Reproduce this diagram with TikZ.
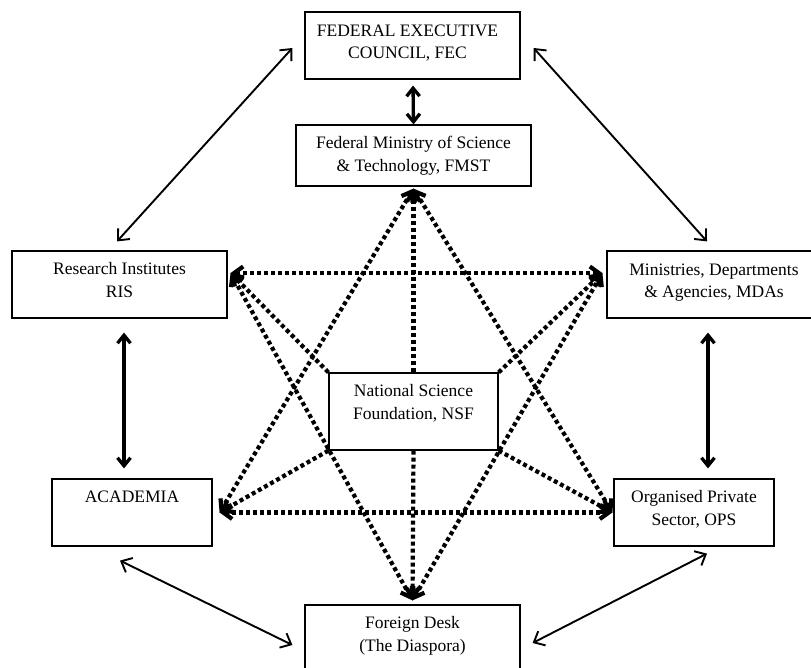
\documentclass[tikz,border=0pt]{standalone}
\usepackage{fontspec}
\setmainfont{Liberation Serif}
\usetikzlibrary{arrows.meta,calc}
\begin{document}
\begin{tikzpicture}[x=1pt,y=-1pt,
  box/.style={draw, line width=1.2pt, inner sep=0pt},
  txt/.style={font=\fontsize{17.5}{22.5}\selectfont, align=center, inner sep=0pt, anchor=north},
  thinarrow/.style={line width=1.9pt, {Straight Barb[length=9pt,width=16pt]}-{Straight Barb[length=9pt,width=16pt]}},
  thickarrow/.style={line width=3.3pt, {Straight Barb[length=8pt,width=13pt]}-{Straight Barb[length=8pt,width=13pt]}},
  dotline/.style={line width=4.2pt, dash pattern=on 4pt off 3pt},
  dotboth/.style={dotline, {Straight Barb[length=9pt,width=13pt]}-{Straight Barb[length=9pt,width=13pt]}},
  dotto/.style={dotline, -{Straight Barb[length=9pt,width=13pt]}}
]
\useasboundingbox (0,0) rectangle (811,668);

% boxes
\node[box, minimum width=215pt, minimum height=67pt] (fec) at (412.5,45.5) {};
\node[box, minimum width=235pt, minimum height=61pt] (fmst) at (413.5,155.5) {};
\node[box, minimum width=215pt, minimum height=67pt] (ris) at (119.5,284.5) {};
\node[box, minimum width=214pt, minimum height=67pt] (mda) at (714,284.5) {};
\node[box, minimum width=169pt, minimum height=77pt] (nsf) at (413.5,411.5) {};
\node[box, minimum width=160pt, minimum height=67pt] (aca) at (132,512.5) {};
\node[box, minimum width=160pt, minimum height=67pt] (ops) at (694,512.5) {};
\node[box, minimum width=215pt, minimum height=70pt] (for) at (412.5,640) {};

% texts
\node[txt] (tfec) at ($(fec.north)+(-5,13)$) {FEDERAL EXECUTIVE\\COUNCIL, FEC};
\node[txt] (tfmst) at ($(fmst.north)+(0,12)$) {Federal Ministry of Science\\\& Technology, FMST};
\node[txt] (tris) at ($(ris.north)+(0,12)$) {Research Institutes\\RIS};
\node[txt] (tmda) at ($(mda.north)+(0,13)$) {Ministries, Departments\\\& Agencies, MDAs};
\node[txt] (tnsf) at ($(nsf.north)+(0,12)$) {National Science\\Foundation, NSF};
\node[txt] (taca) at ($(aca.north)+(0,12)$) {ACADEMIA};
\node[txt] (tops) at ($(ops.north)+(0,12)$) {Organised Private\\Sector, OPS};
\node[txt] (tfor) at ($(for.north)+(0,12)$) {Foreign Desk\\(The Diaspora)};

% convergence points of dotted arrows
\coordinate (pR) at ($(ris.east)+(3,-11.5)$);
\coordinate (pM) at ($(mda.west)+(-4,-11.5)$);
\coordinate (pA) at ($(aca.east)+(7,0)$);
\coordinate (pO) at ($(ops.west)+(-1,0)$);
\coordinate (pT) at ($(fmst.south)+(0,2)$);
\coordinate (pB) at ($(for.north)+(0,-4)$);

% dotted star
\draw[dotboth] (pR) -- (pM);
\draw[dotboth] (pA) -- (pO);
\draw[dotboth] (pT) -- (pA);
\draw[dotboth] (pT) -- (pO);
\draw[dotboth] (pB) -- (pR);
\draw[dotboth] (pB) -- (pM);
\draw[dotto] (nsf.north) -- (pT);
\draw[dotto] (nsf.south) -- (pB);
\draw[dotto] (nsf.north west) -- (pR);
\draw[dotto] (nsf.north east) -- (pM);
\draw[dotto] (nsf.south west) -- (pA);
\draw[dotto] (nsf.south east) -- (pO);

% solid arrows
\draw[thinarrow] ($(ris.north)+(-2.5,-9)$) -- ($(fec.west)+(-12,2.5)$);
\draw[thinarrow] ($(mda.north)+(-7,-9)$) -- ($(fec.east)+(13,2.5)$);
\draw[thickarrow] ($(fec.south)+(0.5,6)$) -- (fmst.north);
\draw[thickarrow] ($(ris.south)+(4.5,14)$) -- ($(aca.north)+(-8,-10)$);
\draw[thickarrow] ($(mda.south)+(-6,14)$) -- ($(ops.north)+(14,-10)$);
\draw[thinarrow] ($(aca.south)+(-12,14)$) -- ($(for.west)+(-12,5)$);
\draw[thinarrow] ($(ops.south)+(13,7)$) -- ($(for.east)+(12,3)$);
\end{tikzpicture}
\end{document}
